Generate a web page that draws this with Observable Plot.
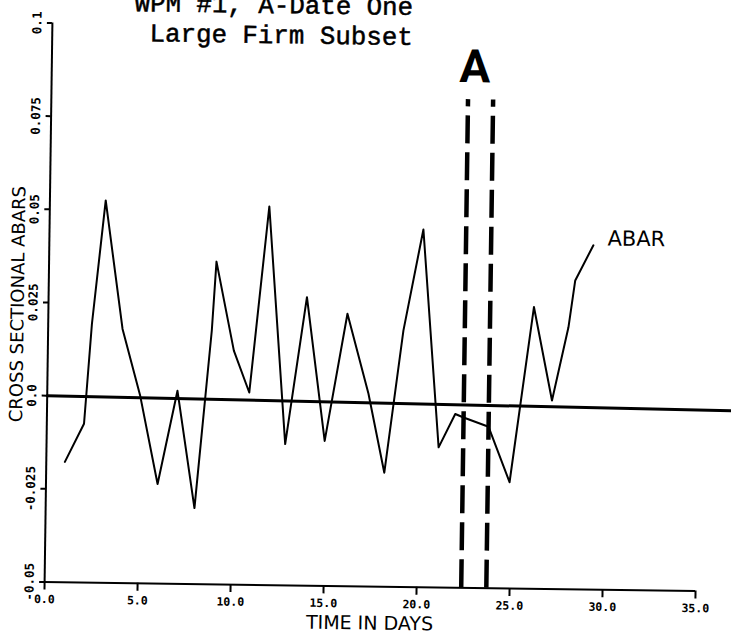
<!DOCTYPE html>
<html><head><meta charset="utf-8">
<script src="https://cdn.jsdelivr.net/npm/d3@7"></script>
<script src="https://cdn.jsdelivr.net/npm/@observablehq/plot@0.6"></script>
<style>
html,body{margin:0;padding:0;background:#fff;overflow:hidden}
#chart{width:731px;height:633px;transform:rotate(0.8deg);transform-origin:370px 305px;}
</style></head><body><div id="chart"></div>
<script>
const titleLines = ["WPM #1, A-Date One", "Large Firm Subset"];
const days = [1, 2, 2.35, 3, 4, 5, 6, 7, 8, 8.8, 9, 10, 10.86, 11.8, 12.83, 13.89, 14.95, 16.08, 17.27, 18.18, 19.1, 20.1, 21.08, 21.95, 22.4, 23.75, 24.92, 26.1, 27.14, 27.97, 28.3, 29.25];
const abar = [-0.0177, -0.0074, 0.0194, 0.0526, 0.0182, 0.0003, -0.0233, 0.0018, -0.0296, 0.0181, 0.0366, 0.0128, 0.0016, 0.0516, -0.0121, 0.0274, -0.0111, 0.0231, 0.0017, -0.0194, 0.0188, 0.0460, -0.0124, -0.0034, -0.0043, -0.0067, -0.0215, 0.0256, 0.0006, 0.0203, 0.0329, 0.0424];
const seriesLabel = "ABAR";
const baselineDays = [0, 36.8];
const baselineValues = [0, -0.0015];
const eventDays = [22.4, 23.75];
const eventTop = 0.081;
const eventLabel = "A";
const eventLabelDay = 22.74;
const eventLabelValue = 0.0857;
const xTicks = [0, 5, 10, 15, 20, 25, 30, 35];
const xTickLabels = ["0.0", "5.0", "10.0", "15.0", "20.0", "25.0", "30.0", "35.0"];
const yTicks = [-0.05, -0.025, 0, 0.025, 0.05, 0.075, 0.1];
const yTickLabels = ["-0.05", "-0.025", "0.0", "0.025", "0.05", "0.075", "0.1"];
const xTitle = "TIME IN DAYS";
const yTitle = "CROSS SECTIONAL ABARS";

const data = days.map((d, i) => ({day: d, value: abar[i]}));
const baseline = baselineDays.map((d, i) => ({day: d, value: baselineValues[i]}));
const last = data[data.length - 1];

const plot = Plot.plot({
  width: 731, height: 633,
  marginLeft: 48, marginRight: 32, marginTop: 27, marginBottom: 47,
  x: {domain: [0, 35]},
  y: {domain: [-0.05, 0.1]},
  style: {background: "#fff", overflow: "visible", fontFamily: "DejaVu Sans", color: "#000"},
  marks: [
    Plot.ruleX([0], {y1: -0.05, y2: 0.1, strokeWidth: 2}),
    Plot.ruleY([-0.05], {x1: 0, x2: 35, strokeWidth: 2}),
    Plot.axisX({ticks: xTicks, tickFormat: d => xTickLabels[xTicks.indexOf(d)], tickSize: 8, tickPadding: 5, strokeWidth: 2, fontSize: 11.5, fontFamily: "DejaVu Sans Mono", fontWeight: "bold", label: null}),
    Plot.axisY({ticks: yTicks, tickFormat: d => yTickLabels[yTicks.indexOf(d)], tickSize: 5, tickRotate: -90, tickPadding: 6, strokeWidth: 2, fontSize: 12.5, fontFamily: "DejaVu Sans Mono", fontWeight: "bold", label: null}),
    Plot.line(baseline, {x: "day", y: "value", strokeWidth: 3}),
    Plot.ruleX(eventDays, {y1: -0.05, y2: eventTop, strokeWidth: 4.5, strokeDasharray: "28,9"}),
    Plot.line(data, {x: "day", y: "value", strokeWidth: 2}),
    Plot.text([last], {x: "day", y: "value", text: () => seriesLabel, dx: 14, textAnchor: "start", lineAnchor: "bottom", fontSize: 21}),
    Plot.text([{day: eventLabelDay, value: eventLabelValue, label: eventLabel}], {x: "day", y: "value", text: "label", lineAnchor: "bottom", fontSize: 46, fontWeight: "bold", fontFamily: "Roboto"}),
    Plot.text([titleLines.join("\n")], {text: d => d, frameAnchor: "top", dx: 35, dy: 17, textAnchor: "end", lineAnchor: "bottom", lineHeight: 1.163, fontSize: 25.8, fontFamily: "Liberation Mono", fill: "#000", stroke: "#000", strokeWidth: 0.5}),
    Plot.text([yTitle], {text: d => d, frameAnchor: "left", dx: -30.5, dy: 2, rotate: -90, textAnchor: "middle", lineAnchor: "middle", fontSize: 18}),
    Plot.text([xTitle], {text: d => d, frameAnchor: "bottom", dy: 43, lineAnchor: "bottom", fontSize: 19})
  ]
});
document.getElementById("chart").appendChild(plot);
</script></body></html>
